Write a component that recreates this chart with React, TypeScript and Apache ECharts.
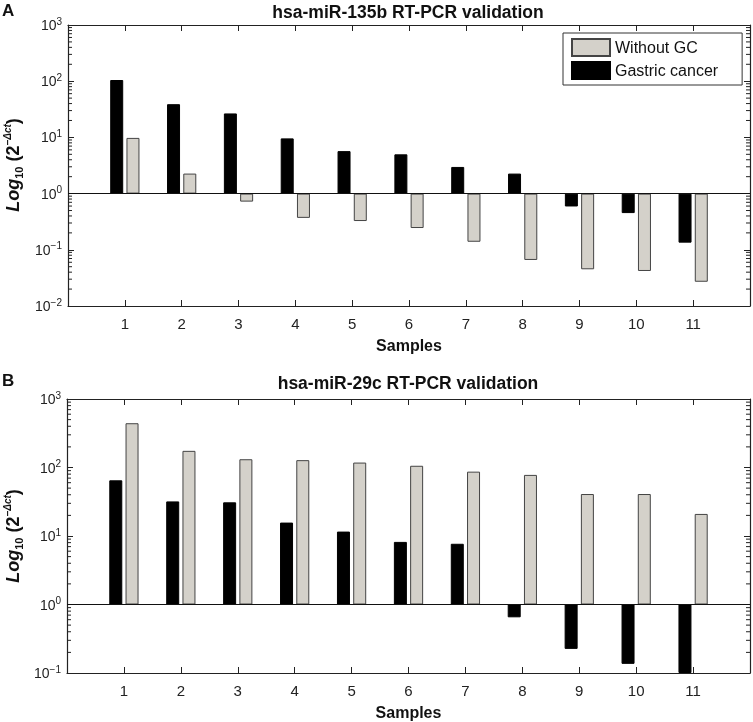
import React, { useEffect, useRef } from "react";
import * as echarts from "echarts";

const categories = ["1", "2", "3", "4", "5", "6", "7", "8", "9", "10", "11"];
const seriesNames = ["Gastric cancer", "Without GC"];
const legendOrder = ["Without GC", "Gastric cancer"];
const titleA = "hsa-miR-135b RT-PCR validation";
const titleB = "hsa-miR-29c RT-PCR validation";
const gastricA = [105, 39, 26.7, 9.6, 5.7, 5.0, 2.98, 2.27, 0.59, 0.45, 0.134];
const withoutA = [9.8, 2.27, 0.72, 0.37, 0.325, 0.244, 0.139, 0.066, 0.045, 0.042, 0.027];
const gastricB = [65, 32, 31, 15.7, 11.6, 8.2, 7.7, 0.65, 0.225, 0.136, 0.1];
const withoutB = [443, 175, 132, 128, 118, 106, 87, 78, 41, 41, 21];
const decadesA = [0.01, 0.1, 1, 10, 100, 1000];
const decadesB = [0.1, 1, 10, 100, 1000];
const minorSteps = [2, 3, 4, 5, 6, 7, 8, 9];

const FONT = "'Liberation Sans', Arial, sans-serif";
const BLACK = "#000000";
const GREY = "#d4d1ca";

const axisData = ["", ...categories, ""];
const pad = (arr: number[]) => [null, ...arr, null];

function yLabel(v: number) {
  const e = Math.round(Math.log10(v));
  const s = e < 0 ? "\u2212" + Math.abs(e) : String(e);
  return `{n|10}{e|${s}}`;
}

const yRich = {
  n: { fontSize: 14, lineHeight: 18, color: "#222", fontFamily: FONT },
  e: { fontSize: 10, lineHeight: 11, verticalAlign: "top", color: "#222", fontFamily: FONT },
};

function minorValues(decades: number[]) {
  const out: number[] = [];
  for (let i = 0; i < decades.length - 1; i++) {
    for (const k of minorSteps) out.push(decades[i] * k);
  }
  return out;
}

function makeAxes(gi: number, decades: number[]) {
  const tickInt = (i: number) => i > 0 && i < axisData.length - 1;
  const min = decades[0];
  const max = decades[decades.length - 1];
  const x = [
    {
      gridIndex: gi,
      type: "category",
      data: axisData,
      boundaryGap: false,
      axisLine: { lineStyle: { color: "#222", width: 1.2 } },
      axisTick: { inside: true, length: 6, interval: tickInt, lineStyle: { color: "#222" } },
      axisLabel: { fontSize: 15, color: "#222", fontFamily: FONT, margin: 10, interval: 0 },
      name: "Samples",
      nameLocation: "middle",
      nameGap: 31,
      nameTextStyle: { fontSize: 16, fontWeight: "bold", color: "#111", fontFamily: FONT },
    },
    {
      gridIndex: gi,
      type: "category",
      data: axisData,
      boundaryGap: false,
      position: "top",
      axisLine: { lineStyle: { color: "#222", width: 1.2 } },
      axisTick: { inside: true, length: 6, interval: tickInt, lineStyle: { color: "#222" } },
      axisLabel: { show: false },
    },
  ];
  const base = {
    gridIndex: gi,
    type: "log",
    logBase: 10,
    min,
    max,
    splitLine: { show: false },
  };
  const y = [
    {
      ...base,
      position: "left",
      axisLine: { show: true, lineStyle: { color: "#222", width: 1.2 } },
      axisTick: { show: true, inside: true, length: 6, lineStyle: { color: "#222" } },
      axisLabel: { formatter: yLabel, rich: yRich, margin: 6 },
    },
    {
      ...base,
      position: "right",
      axisLine: { show: true, lineStyle: { color: "#222", width: 1.2 } },
      axisTick: { show: true, inside: true, length: 6, lineStyle: { color: "#222" } },
      axisLabel: { show: false },
    },
  ];
  return { x, y };
}

function minorTickSeries(xi: number, yi: number, decades: number[]) {
  return {
    type: "custom",
    xAxisIndex: xi,
    yAxisIndex: yi,
    silent: true,
    z: 5,
    data: minorValues(decades).map((v) => [1, v]),
    renderItem: (params: any, api: any) => {
      const cs = params.coordSys;
      const y = api.coord([1, api.value(1)])[1];
      const style = { stroke: "#222", lineWidth: 1 };
      return {
        type: "group",
        children: [
          { type: "line", shape: { x1: cs.x, y1: y, x2: cs.x + 4, y2: y }, style },
          { type: "line", shape: { x1: cs.x + cs.width - 4, y1: y, x2: cs.x + cs.width, y2: y }, style },
        ],
      };
    },
  };
}

const yNameRich = {
  a: { fontSize: 18, fontWeight: "bold", fontStyle: "italic", fontFamily: FONT, lineHeight: 22, fill: "#111" },
  s: { fontSize: 11, fontWeight: "bold", fontFamily: FONT, lineHeight: 12, verticalAlign: "bottom", fill: "#111" },
  b: { fontSize: 18, fontWeight: "bold", fontFamily: FONT, lineHeight: 22, fill: "#111" },
  p: { fontSize: 10, fontWeight: "bold", fontStyle: "italic", fontFamily: FONT, lineHeight: 11, verticalAlign: "top", fill: "#111" },
};
const yNameText = "{a|Log}{s|10}{b| (2}{p|\u2212\u0394ct}{b|)}";

export default function App() {
  const ref = useRef<HTMLDivElement>(null);
  useEffect(() => {
    if (!ref.current) return;
    const chart = echarts.init(ref.current, undefined, { renderer: "svg" });
    const a = makeAxes(0, decadesA);
    const b = makeAxes(1, decadesB);
    const barBase = (name: string, xi: number, yi: number, data: number[]) => ({
      type: "bar",
      name,
      xAxisIndex: xi,
      yAxisIndex: yi,
      data: pad(data),
      barWidth: 13,
      barGap: "25%",
      itemStyle:
        name === "Gastric cancer"
          ? { color: BLACK, borderColor: "#000", borderWidth: 1 }
          : { color: GREY, borderColor: "#444", borderWidth: 1 },
    });
    const markLine = {
      silent: true,
      symbol: "none",
      label: { show: false },
      lineStyle: { color: "#111", width: 1, type: "solid" },
      data: [{ yAxis: 1 }],
    };
    const yB = a.y.length;
    const xB = a.x.length;
    const sA0: any = barBase(seriesNames[0], 0, 0, gastricA);
    sA0.markLine = markLine;
    const sA1 = barBase(seriesNames[1], 0, 0, withoutA);
    const sB0: any = barBase(seriesNames[0], xB, yB, gastricB);
    sB0.markLine = markLine;
    const sB1 = barBase(seriesNames[1], xB, yB, withoutB);

    chart.setOption({
      animation: false,
      textStyle: { fontFamily: FONT },
      grid: [
        { left: 68, right: 3, top: 25, height: 281 },
        { left: 67, right: 3, top: 399, height: 274 },
      ],
      xAxis: [...a.x, ...b.x],
      yAxis: [...a.y, ...b.y],
      legend: {
        data: legendOrder,
        orient: "vertical",
        left: 563,
        top: 33,
        itemWidth: 38,
        itemHeight: 17,
        itemGap: 4,
        padding: [5, 24, 5, 8],
        borderColor: "#333",
        borderWidth: 1,
        icon: "rect",
        textStyle: { fontSize: 16, color: "#111", fontFamily: FONT },
      },
      graphic: [
        { type: "text", left: 2, top: 2, style: { text: "A", fontSize: 17, fontWeight: "bold", fontFamily: FONT, fill: "#111" } },
        { type: "text", left: 2, top: 372, style: { text: "B", fontSize: 17, fontWeight: "bold", fontFamily: FONT, fill: "#111" } },
        { type: "text", x: 408, y: 12, style: { text: titleA, fontSize: 17.5, fontWeight: "bold", fontFamily: FONT, fill: "#111", align: "center", verticalAlign: "middle" } },
        { type: "text", x: 408, y: 383, style: { text: titleB, fontSize: 17.5, fontWeight: "bold", fontFamily: FONT, fill: "#111", align: "center", verticalAlign: "middle" } },
        { type: "text", x: 13, y: 165, rotation: Math.PI / 2, style: { text: yNameText, rich: yNameRich, align: "center", verticalAlign: "middle" } },
        { type: "text", x: 13, y: 536, rotation: Math.PI / 2, style: { text: yNameText, rich: yNameRich, align: "center", verticalAlign: "middle" } },
      ],
      series: [sA0, sA1, sB0, sB1, minorTickSeries(0, 0, decadesA), minorTickSeries(xB, yB, decadesB)],
    });
    return () => chart.dispose();
  }, []);
  return <div ref={ref} style={{ position: "fixed", left: 0, top: 0, width: 753, height: 722 }} />;
}
